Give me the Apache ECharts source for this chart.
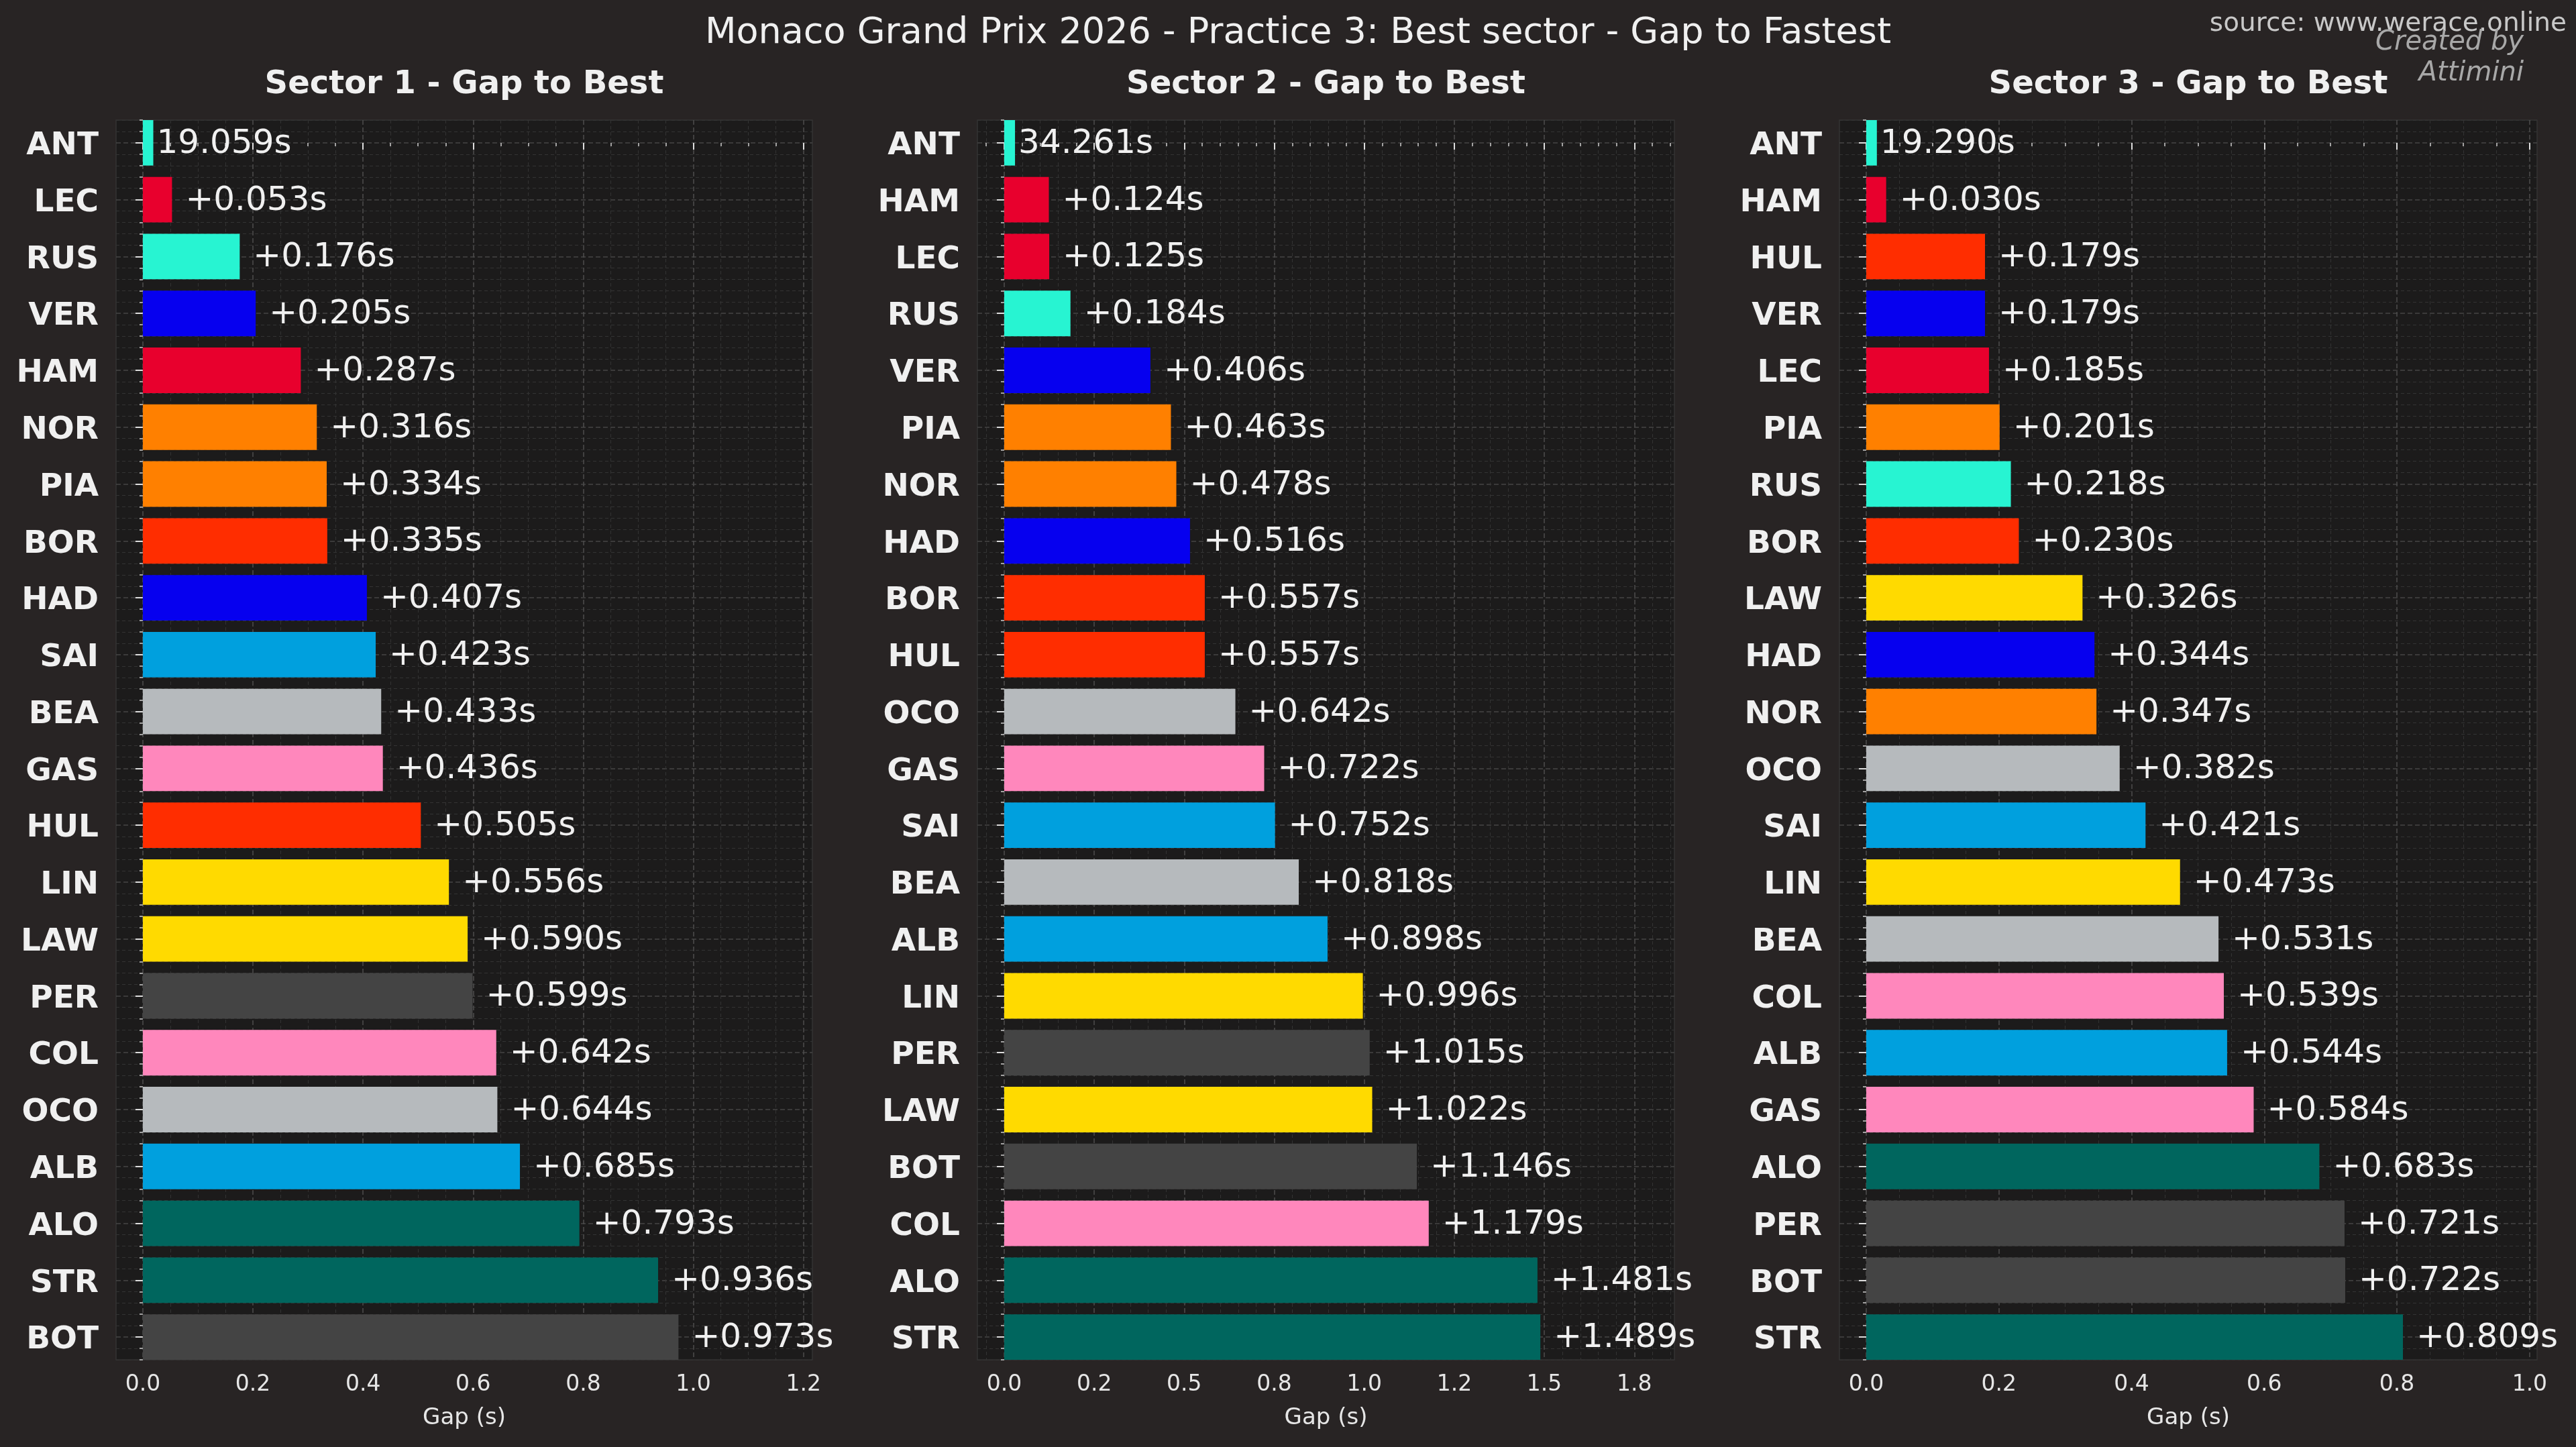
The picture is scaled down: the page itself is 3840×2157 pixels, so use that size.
<!DOCTYPE html>
<html>
<head>
<meta charset="utf-8">
<script src="https://cdn.jsdelivr.net/npm/echarts@6/dist/echarts.min.js"></script>
<style>
  html, body { margin: 0; padding: 0; background: #282424; }
  #chart { width: 3840px; height: 2157px; }
</style>
</head>
<body>
<div id="chart"></div>
<script>
// sector 1
const drivers1 = ['ANT', 'LEC', 'RUS', 'VER', 'HAM', 'NOR', 'PIA', 'BOR', 'HAD', 'SAI', 'BEA',
  'GAS', 'HUL', 'LIN', 'LAW', 'PER', 'COL', 'OCO', 'ALB', 'ALO', 'STR', 'BOT'];
const gaps1 = [0, 0.053, 0.176, 0.205, 0.287, 0.316, 0.334, 0.335, 0.407, 0.423, 0.433,
  0.436, 0.505, 0.556, 0.590, 0.599, 0.642, 0.644, 0.685, 0.793, 0.936, 0.973];
const best1 = '19.059s';

// sector 2
const drivers2 = ['ANT', 'HAM', 'LEC', 'RUS', 'VER', 'PIA', 'NOR', 'HAD', 'BOR', 'HUL', 'OCO',
  'GAS', 'SAI', 'BEA', 'ALB', 'LIN', 'PER', 'LAW', 'BOT', 'COL', 'ALO', 'STR'];
const gaps2 = [0, 0.124, 0.125, 0.184, 0.406, 0.463, 0.478, 0.516, 0.557, 0.557, 0.642,
  0.722, 0.752, 0.818, 0.898, 0.996, 1.015, 1.022, 1.146, 1.179, 1.481, 1.489];
const best2 = '34.261s';

// sector 3
const drivers3 = ['ANT', 'HAM', 'HUL', 'VER', 'LEC', 'PIA', 'RUS', 'BOR', 'LAW', 'HAD', 'NOR',
  'OCO', 'SAI', 'LIN', 'BEA', 'COL', 'ALB', 'GAS', 'ALO', 'PER', 'BOT', 'STR'];
const gaps3 = [0, 0.030, 0.179, 0.179, 0.185, 0.201, 0.218, 0.230, 0.326, 0.344, 0.347,
  0.382, 0.421, 0.473, 0.531, 0.539, 0.544, 0.584, 0.683, 0.721, 0.722, 0.809];
const best3 = '19.290s';

// width of the small marker bar drawn for the fastest driver
const leaderBars = [0.019, 0.030, 0.016];

// x ticks
const xTicks1 = [0, 0.2, 0.4, 0.6, 0.8, 1.0, 1.2];
const xLabels1 = ['0.0', '0.2', '0.4', '0.6', '0.8', '1.0', '1.2'];
const xTicks2 = [0, 0.25, 0.5, 0.75, 1.0, 1.25, 1.5, 1.75];
const xLabels2 = ['0.0', '0.2', '0.5', '0.8', '1.0', '1.2', '1.5', '1.8'];
const xTicks3 = [0, 0.2, 0.4, 0.6, 0.8, 1.0];
const xLabels3 = ['0.0', '0.2', '0.4', '0.6', '0.8', '1.0'];

const sectorTitles = ['Sector 1 - Gap to Best', 'Sector 2 - Gap to Best', 'Sector 3 - Gap to Best'];
const mainTitle = 'Monaco Grand Prix 2026 - Practice 3: Best sector - Gap to Fastest';

const teamColor = {
  ANT: '#27F4D2', RUS: '#27F4D2',
  LEC: '#E8002D', HAM: '#E8002D',
  VER: '#0600EF', HAD: '#0600EF',
  NOR: '#FF8000', PIA: '#FF8000',
  BOR: '#FF2D00', HUL: '#FF2D00',
  SAI: '#00A0DE', ALB: '#00A0DE',
  BEA: '#B6BABD', OCO: '#B6BABD',
  GAS: '#FF87BC', COL: '#FF87BC',
  LIN: '#FFDA00', LAW: '#FFDA00',
  PER: '#444444', BOT: '#444444',
  ALO: '#00665E', STR: '#00665E'
};

const FONT = 'DejaVu Sans';
const TXT = '#f0f0f0';
const grids = [
  { left: 173, top: 179, width: 1038, height: 1848 },
  { left: 1457, top: 179, width: 1039, height: 1848 },
  { left: 2742, top: 179, width: 1040, height: 1848 }
];

// minor tick positions between major ones
function minorValues(lo, hi, step, majorStep) {
  const out = [];
  for (let k = Math.ceil(lo / step - 1e-9); k * step <= hi + 1e-9; k++) {
    const v = +(k * step).toFixed(6);
    const r = v / majorStep;
    if (Math.abs(r - Math.round(r)) > 1e-6) out.push(v);
  }
  return out;
}

const panels = [
  { drivers: drivers1, gaps: gaps1, best: best1, ticks: xTicks1, labels: xLabels1, major: 0.2 },
  { drivers: drivers2, gaps: gaps2, best: best2, ticks: xTicks2, labels: xLabels2, major: 0.25 },
  { drivers: drivers3, gaps: gaps3, best: best3, ticks: xTicks3, labels: xLabels3, major: 0.2 }
];

const xAxis = [], yAxis = [], series = [];
const graphic = [
  { type: 'text', x: 1935, y: 50, style: { text: mainTitle, font: '54px "' + FONT + '"', fill: TXT, align: 'center', verticalAlign: 'middle' } },
  { type: 'text', x: 3826, y: 36, style: { text: 'source: www.werace.online', font: '39px "' + FONT + '"', fill: '#c8c8c8', align: 'right', verticalAlign: 'middle' } },
  { type: 'text', x: 3762, y: 64, style: { text: 'Created by', font: 'italic 40px "' + FONT + '"', fill: '#a8a8a8', align: 'right', verticalAlign: 'middle' } },
  { type: 'text', x: 3762, y: 110, style: { text: 'Attimini', font: 'italic 40px "' + FONT + '"', fill: '#a8a8a8', align: 'right', verticalAlign: 'middle' } }
];

panels.forEach(function (p, k) {
  const maxGap = Math.max.apply(null, p.gaps);
  const xMin = -0.05 * maxGap;
  const xMax = 1.25 * maxGap;
  const n = p.drivers.length;
  const yMin = -0.4, yMax = n - 1 + 0.4;
  const rows = p.drivers.map(function (d, i) { return i; });
  const g = grids[k];

  graphic.push({
    type: 'text', x: g.left + g.width / 2, y: 127,
    style: { text: sectorTitles[k], font: 'bold 48px "' + FONT + '"', fill: TXT, align: 'center', verticalAlign: 'middle' }
  });

  // main x axis
  xAxis.push({
    type: 'value', gridIndex: k, position: 'bottom', min: xMin, max: xMax,
    name: 'Gap (s)', nameLocation: 'middle', nameGap: 70,
    nameTextStyle: { color: '#e6e6e6', fontSize: 34, fontFamily: FONT },
    axisLine: { show: false },
    axisTick: { show: true, customValues: p.ticks, length: 10, lineStyle: { color: '#dddddd', width: 2 } },
    axisLabel: {
      customValues: p.ticks, color: '#e6e6e6', fontSize: 33, fontFamily: FONT, margin: 21,
      formatter: function (v) {
        const j = p.ticks.findIndex(function (t) { return Math.abs(t - v) < 1e-6; });
        return j >= 0 ? p.labels[j] : '';
      }
    },
    splitLine: { show: true, lineStyle: { color: '#4e4e4e', width: 1.5, type: [7, 4] } }
  });
  // minor x axis (ticks + minor grid)
  const xMinor = minorValues(xMin, xMax, 0.05, p.major);
  xAxis.push({
    type: 'value', gridIndex: k, position: 'bottom', min: xMin, max: xMax,
    axisLine: { show: false },
    axisTick: { show: true, customValues: xMinor, length: 5, lineStyle: { color: '#cccccc', width: 1.5 } },
    axisLabel: { show: false, customValues: xMinor },
    splitLine: { show: true, lineStyle: { color: '#333333', width: 1, type: [5, 4] } }
  });

  // main y axis
  yAxis.push({
    type: 'value', gridIndex: k, position: 'left', min: yMin, max: yMax, inverse: true,
    axisLine: { show: false },
    axisTick: { show: true, customValues: rows, length: 11, lineStyle: { color: '#dddddd', width: 2 } },
    axisLabel: {
      customValues: rows, color: TXT, fontSize: 47, fontWeight: 'bold', fontFamily: FONT, margin: 26,
      verticalAlign: 'top', lineHeight: 10,
      formatter: function (v) { return p.drivers[Math.round(v)] || ''; }
    },
    splitLine: { show: true, lineStyle: { color: '#454545', width: 1.5, type: [7, 4] } }
  });
  // minor y axis
  const yMinor = minorValues(yMin, yMax, 0.2, 1);
  yAxis.push({
    type: 'value', gridIndex: k, position: 'left', min: yMin, max: yMax, inverse: true,
    axisLine: { show: false },
    axisTick: { show: true, customValues: yMinor, length: 5, lineStyle: { color: '#cccccc', width: 1.5 } },
    axisLabel: { show: false, customValues: yMinor },
    splitLine: { show: true, lineStyle: { color: '#333333', width: 1, type: [5, 4] } }
  });

  series.push({
    type: 'custom',
    xAxisIndex: k * 2,
    yAxisIndex: k * 2,
    clip: false,
    encode: { x: 0, y: 1 },
    data: p.gaps.map(function (gap, i) { return [i === 0 ? leaderBars[k] : gap, i]; }),
    renderItem: function (params, api) {
      const i = params.dataIndex;
      const row = api.value(1);
      const p0 = api.coord([0, row]);
      const p1 = api.coord([api.value(0), row]);
      const h = api.size([0, 0.8])[1];
      const text = i === 0 ? p.best : '+' + p.gaps[i].toFixed(3) + 's';
      return {
        type: 'group',
        children: [
          {
            type: 'rect',
            shape: { x: p0[0], y: p0[1] - h / 2, width: p1[0] - p0[0], height: h },
            style: { fill: teamColor[p.drivers[i]] }
          },
          {
            type: 'text',
            x: p1[0] + (i === 0 ? 5 : 20),
            y: p1[1] + 2,
            style: { text: text, fill: TXT, font: '50px "' + FONT + '"', align: 'left', verticalAlign: 'middle' }
          }
        ]
      };
    }
  });
});

const chart = echarts.init(document.getElementById('chart'));
chart.setOption({
  backgroundColor: '#282424',
  animation: false,
  grid: grids.map(function (g) {
    return Object.assign({ show: true, backgroundColor: '#1c1b1b', borderColor: '#333333', borderWidth: 1.5 }, g);
  }),
  xAxis: xAxis,
  yAxis: yAxis,
  series: series,
  graphic: graphic
});
</script>
</body>
</html>
